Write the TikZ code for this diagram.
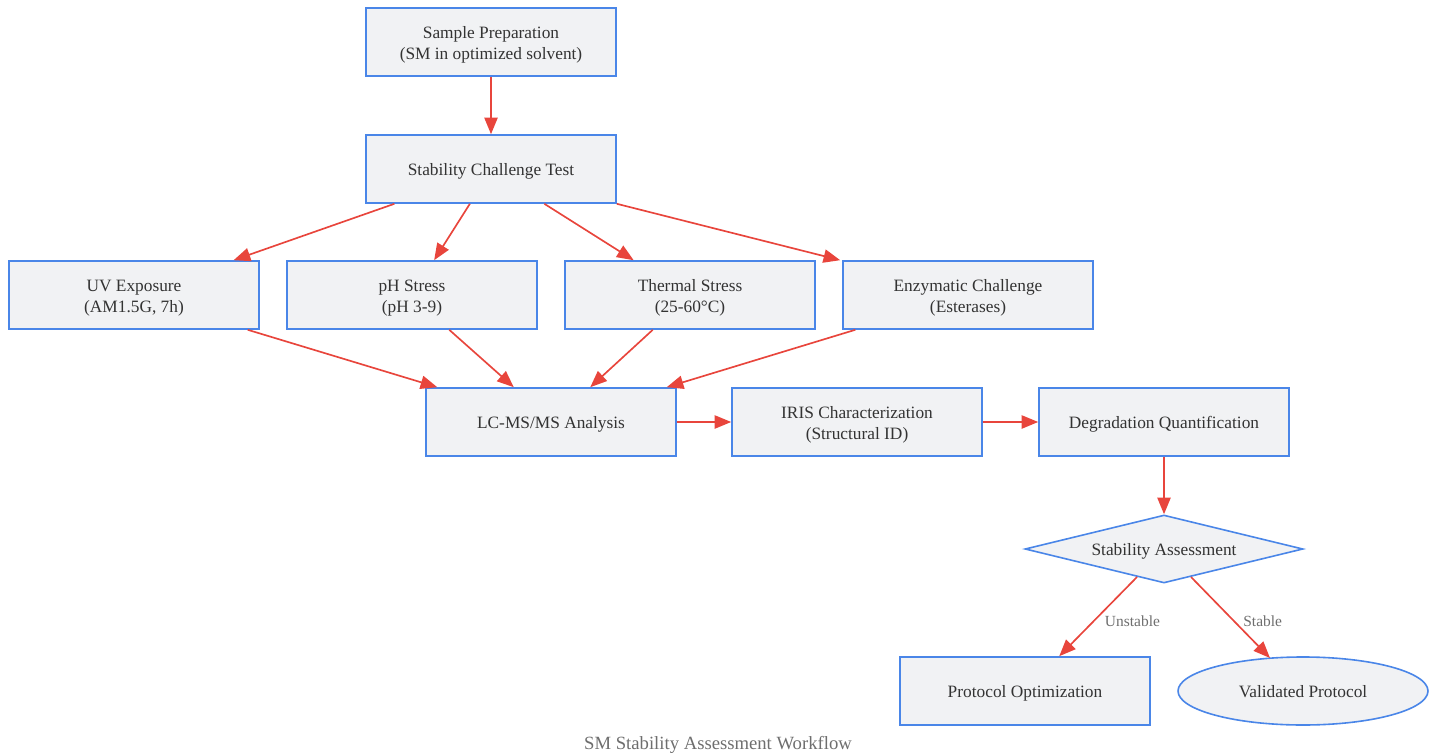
\documentclass[tikz,border=0pt]{standalone}
\usepackage{fontspec}
\setmainfont{Liberation Serif}
\usetikzlibrary{shapes.geometric,arrows.meta,calc}
\definecolor{boxfill}{HTML}{F1F2F4}
\definecolor{boxline}{HTML}{4A86E8}
\definecolor{arrred}{HTML}{E8453C}
\definecolor{txt}{HTML}{333333}
\definecolor{lbl}{HTML}{6E6E6E}
\newcommand{\tx}[1]{\raisebox{-2pt}[\height][\depth]{\begin{tabular}{@{}c@{}}#1\end{tabular}}}
\begin{document}
\begin{tikzpicture}[x=0.75pt,y=-0.75pt,
  procbox/.style={draw=boxline,fill=boxfill,line width=1.2pt,minimum width=187.5pt,minimum height=51pt,
    inner sep=0pt,align=center,text=txt,font=\fontsize{13}{15.75}\selectfont},
  decbox/.style={draw=boxline,fill=boxfill,line width=1.2pt,diamond,aspect=4.09,minimum width=208.5pt,minimum height=51pt,
    inner sep=0pt,align=center,text=txt,font=\fontsize{13}{15.75}\selectfont},
  endbox/.style={draw=boxline,fill=boxfill,line width=1.2pt,ellipse,minimum width=187.5pt,minimum height=51pt,
    inner sep=0pt,align=center,text=txt,font=\fontsize{13}{15.75}\selectfont},
  flow/.style={draw=arrred,line width=1.25pt,-{Triangle[length=12.5pt,width=10pt]}},
  elabel/.style={text=lbl,font=\fontsize{11.6}{13}\selectfont,inner sep=0pt,anchor=west}]
\useasboundingbox (0,0) rectangle (1437,755);
\node[procbox] (sp) at (491,42) {\tx{Sample Preparation\\(SM in optimized solvent)}};
\node[procbox] (sct) at (491,169) {\tx{Stability Challenge Test}};
\node[procbox] (uv) at (134,295) {\tx{UV Exposure\\(AM1.5G, 7h)}};
\node[procbox] (ph) at (412,295) {\tx{pH Stress\\(pH 3-9)}};
\node[procbox] (th) at (690,295) {\tx{Thermal Stress\\(25-60°C)}};
\node[procbox] (en) at (968,295) {\tx{Enzymatic Challenge\\(Esterases)}};
\node[procbox] (lc) at (551,422) {\tx{LC-MS/MS Analysis}};
\node[procbox] (iris) at (857,422) {\tx{IRIS Characterization\\(Structural ID)}};
\node[procbox] (dq) at (1164,422) {\tx{Degradation Quantification}};
\node[decbox] (sa) at (1164,549) {\tx{Stability Assessment}};
\node[procbox] (po) at (1025,691) {\tx{Protocol Optimization}};
\node[endbox] (vp) at (1303,691) {\tx{Validated Protocol}};
\node[text=lbl,font=\fontsize{14}{16}\selectfont] (cap) at (718,745) {SM Stability Assessment Workflow};

\draw[flow] (sp) -- (sct);
\draw[flow] ($(sct.south west)!0.116!(sct.south east)$) -- ($(uv.north west)!0.896!(uv.north east)$);
\draw[flow] ($(sct.south west)!0.416!(sct.south east)$) -- ($(ph.north west)!0.588!(ph.north east)$);
\draw[flow] ($(sct.south west)!0.712!(sct.south east)$) -- ($(th.north west)!0.276!(th.north east)$);
\draw[flow] (sct.south east) -- ($(en.north west)!-0.008!(en.north east)$);
\draw[flow] ($(uv.south west)!0.952!(uv.south east)$) -- ($(lc.north west)!0.048!(lc.north east)$);
\draw[flow] ($(ph.south west)!0.648!(ph.south east)$) -- ($(lc.north west)!0.352!(lc.north east)$);
\draw[flow] ($(th.south west)!0.352!(th.south east)$) -- ($(lc.north west)!0.656!(lc.north east)$);
\draw[flow] ($(en.south west)!0.052!(en.south east)$) -- ($(lc.north west)!0.96!(lc.north east)$);
\draw[flow] (lc) -- (iris);
\draw[flow] (iris) -- (dq);
\draw[flow] (dq) -- (sa);
\draw[flow] ($(sa.center)+(-27,28)$) -- node[elabel,pos=0.5,xshift=4.5pt,yshift=-3.4pt] {Unstable} ($(po.north west)!0.636!(po.north east)$);
\draw[flow] ($(sa.center)+(27,28)$) -- node[elabel,pos=0.5,xshift=9pt,yshift=-3pt] {Stable} ($(vp.center)+(-33,-33)$);
\end{tikzpicture}
\end{document}
